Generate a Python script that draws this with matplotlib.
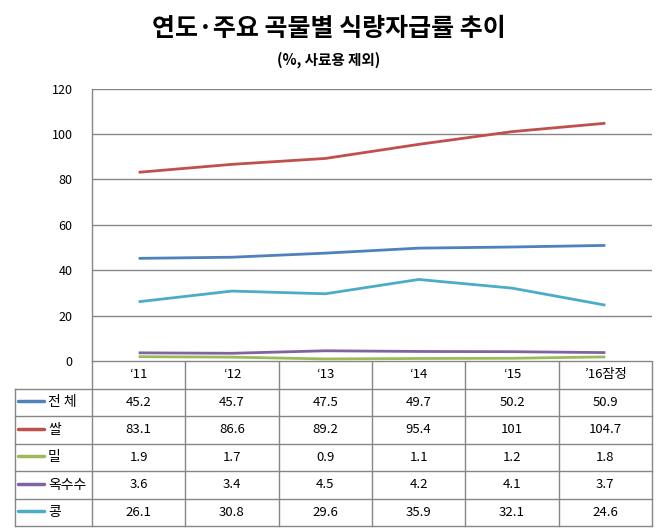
import matplotlib

matplotlib.use("Agg")
import matplotlib.pyplot as plt

plt.rcParams["font.family"] = ["Noto Sans CJK KR", "DejaVu Sans"]

years = ["\u201811", "\u201812", "\u201813", "\u201814", "\u201815", "\u201916잠정"]
series_names = ["전 체", "쌀", "밀", "옥수수", "콩"]
total = [45.2, 45.7, 47.5, 49.7, 50.2, 50.9]
rice = [83.1, 86.6, 89.2, 95.4, 101, 104.7]
wheat = [1.9, 1.7, 0.9, 1.1, 1.2, 1.8]
corn = [3.6, 3.4, 4.5, 4.2, 4.1, 3.7]
soy = [26.1, 30.8, 29.6, 35.9, 32.1, 24.6]
series = [total, rice, wheat, corn, soy]
colors = ["#4F81BD", "#C0504D", "#9BBB59", "#8064A2", "#4BACC6"]

GRID = "#868686"
W, H = 660, 530


def px_rect(x0, y0, x1, y1):
    return [x0 / W, 1 - y1 / H, (x1 - x0) / W, (y1 - y0) / H]


def fmt(v):
    return f"{v:g}"


fig = plt.figure(figsize=(W / 100, H / 100), dpi=100, facecolor="white")

# line chart
ax = fig.add_axes(px_rect(92, 88.5, 652, 361))
xs = list(range(len(years)))
for vals, c in zip(series, colors):
    ax.plot(xs, vals, color=c, lw=2.0, solid_capstyle="butt", solid_joinstyle="round", zorder=3)
ax.set_xlim(-0.5, len(years) - 0.5)
ax.set_ylim(0, 120)
ax.set_yticks(range(0, 121, 20))
ax.set_xticks([])
ax.grid(True, axis="y", color=GRID, lw=1.0)
ax.tick_params(axis="y", length=0, pad=14, labelsize=9, labelcolor="#000000")
for s in ["top", "right", "bottom"]:
    ax.spines[s].set_visible(False)
ax.spines["left"].set_color(GRID)
ax.spines["left"].set_linewidth(1.0)

# data table
tb = fig.add_axes(px_rect(0, 361, W, 530))
tb.set_xlim(0, W)
tb.set_ylim(530, 361)
tb.set_axis_off()
col_left, plot_left, plot_right = 15, 92, 652
row_h = 27.5
top = 361
n_rows = len(series) + 1
bottom = top + row_h * n_rows
col_w = (plot_right - plot_left) / len(years)

kw = dict(color=GRID, lw=1.0)
tb.plot([plot_left, plot_right], [top, top], **kw)
for i in range(1, n_rows + 1):
    y = top + row_h * i
    tb.plot([col_left, plot_right], [y, y], **kw)
tb.plot([col_left, col_left], [top + row_h, bottom], **kw)
for j in range(len(years) + 1):
    x = plot_left + col_w * j
    tb.plot([x, x], [top, bottom], **kw)

for j, lab in enumerate(years):
    tb.text(plot_left + col_w * (j + 0.5), top + row_h * 0.5, lab,
            ha="center", va="center", fontsize=9.5)

for i, (name, vals, c) in enumerate(zip(series_names, series, colors)):
    yc = top + row_h * (i + 1.5)
    tb.plot([18, 44], [yc - 1, yc - 1], color=c, lw=2.5, solid_capstyle="round")
    tb.text(48, yc, name, ha="left", va="center", fontsize=10)
    for j, v in enumerate(vals):
        tb.text(plot_left + col_w * (j + 0.5), yc, fmt(v),
                ha="center", va="center", fontsize=9.5)

fig.text(329 / W, 1 - 28.5 / H, "연도·주요 곡물별 식량자급률 추이", ha="center", va="center",
         fontsize=18, fontweight="bold")
fig.text(329 / W, 1 - 60 / H, "(%, 사료용 제외)", ha="center", va="center",
         fontsize=10.5, fontweight="bold")

fig.savefig("out.png", dpi=100)
